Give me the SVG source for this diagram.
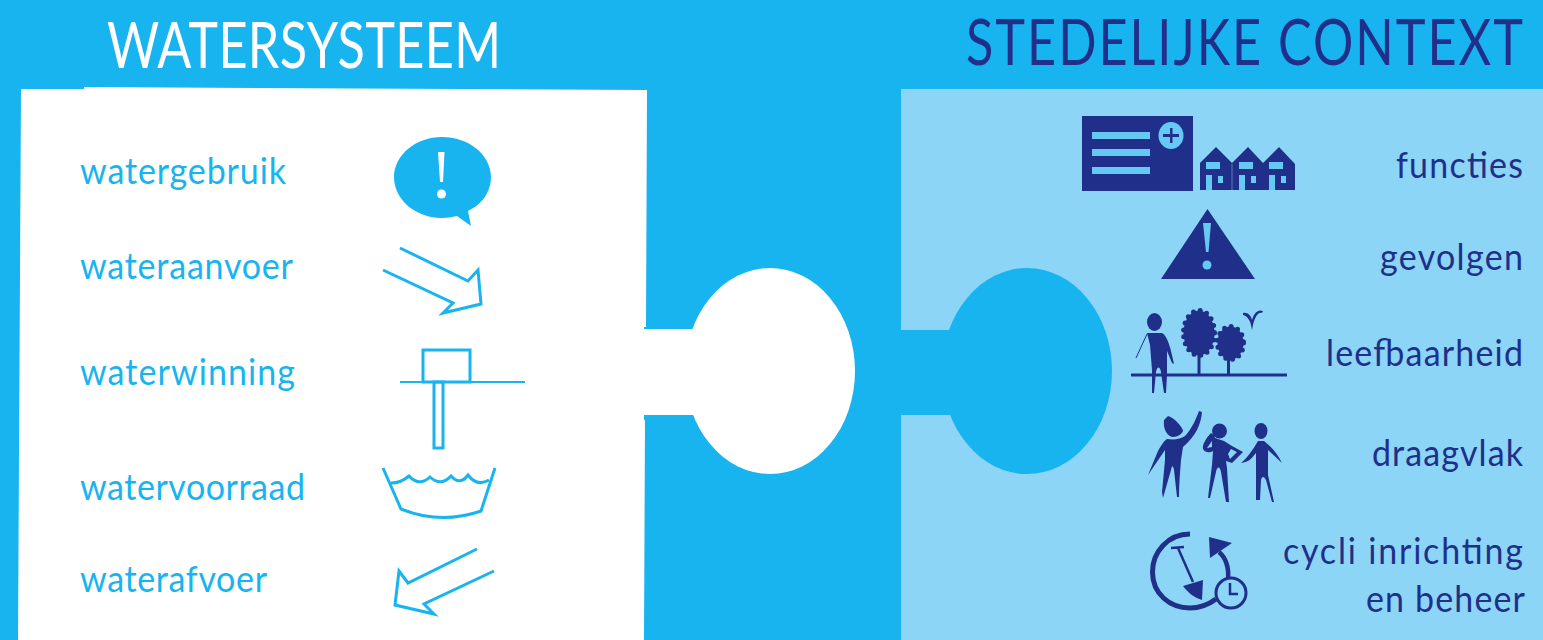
<svg xmlns="http://www.w3.org/2000/svg" width="1543" height="640" viewBox="0 0 1543 640">
<style>
text{font-family:"Lato","Open Sans",sans-serif}
.l{font-size:37px;fill:#18b4f0}
.r{font-size:37px;fill:#20308a;text-anchor:end}
.h{font-size:63px}
.s{fill:none;stroke:#18b4f0;stroke-width:3}
.d{fill:#20308a}
.dl{fill:none;stroke:#20308a}
.c{fill:#66c9f4}
.t{fill:#20308a;stroke:#20308a;stroke-width:5;stroke-linecap:round;stroke-dasharray:0 7}
</style>
<rect width="1543" height="640" fill="#18b4f0"/>
<g id="panel-left">
<path d="M21 89H84V87L647 90L646 327H644V329H693V415H644V420H645L644 640H18Z" fill="#fff"/>
<ellipse cx="770" cy="371" rx="85" ry="103" fill="#fff"/>
</g>
<g id="panel-right">
<path d="M901 89H1543V640H901V415H950V330H901Z" fill="#8dd5f6"/>
<ellipse cx="1027" cy="371" rx="85" ry="103" fill="#18b4f0"/>
</g>
<text class="h" transform="scale(.8,1)" x="133.750" y="68" fill="#fff" textLength="492.500" lengthAdjust="spacing">WATERSYSTEEM</text>
<text class="h" transform="scale(.8,1)" x="1207.500" y="65" fill="#20308a" textLength="696.250" lengthAdjust="spacing">STEDELIJKE CONTEXT</text>
<g id="watergebruik">
<text class="l" transform="scale(.92,1)" x="86.960" y="184" textLength="223.900" lengthAdjust="spacing">watergebruik</text>
<path d="M442 137C469 137 491 155 491 177C491 191 483 204 468 211L471 226L457 216C452 217 447 218 442 218C416 218 394 200 394 177C394 155 416 137 442 137Z" fill="#18b4f0"/>
<path d="M438 152H444.500L443 182H440Z" fill="#fff"/><circle cx="441.500" cy="194" r="4.500" fill="#fff"/>
</g>
<g id="wateraanvoer">
<text class="l" transform="scale(.92,1)" x="86.960" y="279" textLength="231.500" lengthAdjust="spacing">wateraanvoer</text>
<path class="s" d="M400 248L468 281L478 270L481 304L443 313L453 303L383 270"/>
</g>
<g id="waterwinning">
<text class="l" transform="scale(.92,1)" x="86.960" y="385" textLength="233.700" lengthAdjust="spacing">waterwinning</text>
<path class="s" style="stroke-width:2" d="M400 382H525"/>
<rect class="s" x="423" y="350" width="47" height="32"/>
<rect class="s" x="434" y="382" width="9" height="66"/>
</g>
<g id="watervoorraad">
<text class="l" transform="scale(.92,1)" x="86.960" y="500" textLength="244.600" lengthAdjust="spacing">watervoorraad</text>
<path class="s" d="M383 468L401 509Q441 525 481 511L495 468"/>
<path class="s" d="M391 483Q401 483 409 476Q419 487 430 477Q441 487 451 476Q460 486 468 475Q477 487 489 480"/>
</g>
<g id="waterafvoer">
<text class="l" transform="scale(.92,1)" x="86.960" y="592" textLength="203.300" lengthAdjust="spacing">waterafvoer</text>
<path class="s" d="M477 549L408 583L399 571L395 605L434 614L424 604L494 571"/>
</g>
<g id="functies">
<text class="r" transform="scale(.92,1)" x="1655.400" y="178" textLength="138" lengthAdjust="spacing">functies</text>
<rect class="d" x="1082" y="116" width="111" height="75"/>
<path class="c" d="M1092 132H1150V139H1092ZM1092 149H1150V156H1092ZM1092 167H1150V174H1092Z"/>
<ellipse class="c" cx="1171" cy="135.500" rx="12.500" ry="13.500"/>
<path class="d" d="M1170 128H1172.500V134H1179V137H1172.500V143H1170V137H1163V134H1170Z"/>
<path class="d" d="M1200 163L1216 147L1232 163L1248 147L1263 163L1279 147L1295 164V190H1200Z"/>
<path class="c" d="M1206 162H1220V169H1206ZM1239 162H1253V169H1239ZM1269 162H1283V169H1269ZM1206 175H1212V190H1206ZM1239 175H1245V190H1239ZM1269 175H1275V190H1269ZM1218 176H1223V183H1218ZM1251 176H1256V183H1251ZM1281 176H1286V183H1281Z"/>
<path d="M1232 164V190" stroke="#5a78c0" stroke-width="1"/>
</g>
<g id="gevolgen">
<text class="r" transform="scale(.92,1)" x="1655.400" y="270" textLength="155.400" lengthAdjust="spacing">gevolgen</text>
<path class="d" d="M1207.500 209L1255 279H1161Z"/>
<path class="c" d="M1203 223H1211L1208.500 252H1206Z"/><circle class="c" cx="1207" cy="265" r="4.500"/>
</g>
<g id="leefbaarheid">
<text class="r" transform="scale(.92,1)" x="1655.400" y="366" textLength="214.100" lengthAdjust="spacing">leefbaarheid</text>
<path class="dl" style="stroke-width:3" d="M1131 375H1287M1199 355V375M1228.500 358V375"/>
<ellipse class="d" cx="1154.500" cy="322" rx="7.500" ry="9"/>
<path class="d" d="M1147 333H1162C1168 336 1171 350 1174 364L1172 363L1167 351V375L1166 393H1164L1161 372C1160 366 1157 366 1156 372L1154 393H1152L1152 370L1150 345Z"/>
<path class="dl" d="M1147 334L1136 358"/>
<ellipse class="t" cx="1199" cy="333" rx="15.500" ry="22.500"/>
<ellipse class="t" cx="1230.500" cy="343" rx="13" ry="16.500"/>
<path class="d" d="M1243 313C1248 312 1251 316 1252 320C1254 313 1258 309 1263 311L1262 313C1258 312 1255 317 1253 325L1252 330L1251 325C1250 320 1247 316 1243 315Z"/>
</g>
<g id="draagvlak">
<text class="r" transform="scale(.92,1)" x="1655.400" y="466" textLength="164.100" lengthAdjust="spacing">draagvlak</text>
<path class="d" d="M1168 416C1175 418 1183 428 1183 431C1181 436 1175 437 1172 437C1166 435 1163 428 1164 420Z"/>
<path class="d" d="M1167 439C1175 440 1180 439 1185 436C1190 431 1195 422 1199 411L1202 412C1201 424 1196 436 1183 447L1181 460C1180 473 1179 484 1179 497L1177 497L1174 470C1173 465 1172 465 1171 470L1163 498L1162 492L1165 460L1165 450L1148 475L1158 451C1162 444 1164 441 1167 439Z"/>
<circle class="d" cx="1219.500" cy="431" r="7.500"/>
<path class="d" d="M1211 433C1206 438 1202 445 1203 449C1205 453 1210 453 1213 451L1212 465L1208 498L1210 498L1216 472C1217 466 1220 466 1221 472L1226 502L1229 502L1227 468L1226 461L1232 463L1243 452L1232 446L1224 441L1215 438L1214 435ZM1212 441L1207 448L1212 447ZM1228 454L1231 449L1237 452L1230 459Z" fill-rule="evenodd"/>
<ellipse class="d" cx="1261" cy="431" rx="6.500" ry="8"/>
<path class="d" d="M1258 441H1264C1269 445 1277 452 1282 463L1268 450L1268 475L1274 502L1272 502L1266 480C1264 476 1262 476 1261 480L1260 500L1256 500L1256 460V453C1251 459 1249 462 1241 463C1246 459 1253 450 1258 441Z"/>
</g>
<g id="cycli">
<text class="r" transform="scale(.92,1)" x="1655.400" y="564" textLength="260.900" lengthAdjust="spacing">cycli inrichting</text>
<text class="r" transform="scale(.92,1)" x="1657.600" y="612" textLength="172.800" lengthAdjust="spacing">en beheer</text>
<path class="dl" style="stroke-width:5" d="M1190 534C1168 534 1152.500 552 1152.500 572C1152.500 594 1170 608 1190 608C1200 608 1208 605 1216 599"/>
<path class="dl" style="stroke-width:4.500" d="M1219 552C1226 558 1229 568 1228 580"/>
<path class="d" d="M1209 537L1232 543L1210 558Z"/>
<path class="dl" style="stroke-width:2.500" d="M1171 548L1184 547M1178 548L1193 582"/>
<path class="d" d="M1183 586L1203 580L1202 600C1195 598 1188 593 1183 586Z"/>
<circle cx="1231" cy="593" r="15" fill="#8dd5f6" stroke="#20308a" stroke-width="3"/>
<path class="dl" style="stroke-width:2.500" d="M1230 583V594H1238"/>
</g>
</svg>
